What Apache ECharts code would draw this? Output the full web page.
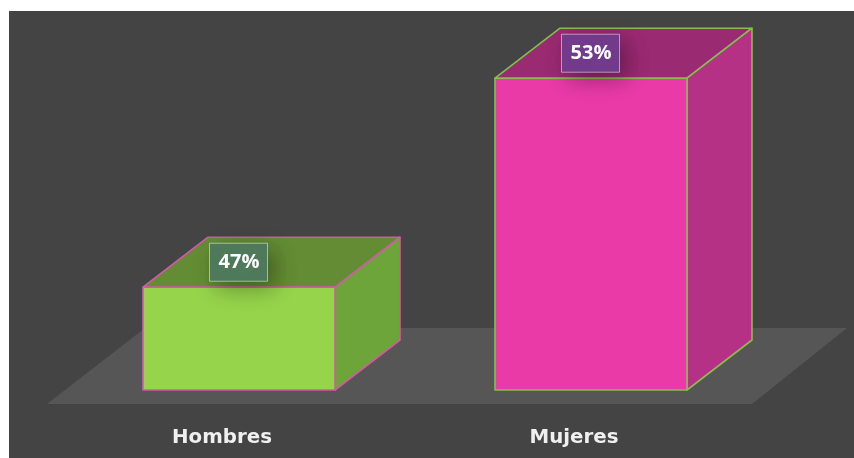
<!DOCTYPE html>
<html><head><meta charset="utf-8">
<style>
html,body{margin:0;padding:0;background:#fff;overflow:hidden}
#c{position:absolute;left:9px;top:11px;width:845px;height:447px;filter:blur(0.55px)}
</style>
<script src="https://cdn.jsdelivr.net/npm/echarts@6/dist/echarts.min.js"></script>
</head><body><div id="c"></div>
<script>
const categories = ['Hombres', 'Mujeres'];
const percentages = [47, 53];
const palette = [
  {front:'#96d44b', side:'#6ea53a', top:'#648c34', edge:'#d25aa8', tag:'#4f7a5c'},
  {front:'#e93aa8', side:'#b43186', top:'#9a2a72', edge:'#84c04a', tag:'#733b8b'}
];
const DX = 65, DY = -50, BAR = 192;
const chart = echarts.init(document.getElementById('c'), null, {renderer:'canvas'});
function poly(points, fill, stroke){
  return {type:'polygon', shape:{points}, style:{fill, stroke, lineWidth:1.6, lineJoin:'round'}};
}
chart.setOption({
  animation:false,
  backgroundColor:'#444444',
  grid:{left:54, top:32.4, width:704, height:346.6},
  xAxis:{type:'category', data:categories,
    axisLine:{show:false}, axisTick:{show:false}, splitLine:{show:false},
    axisLabel:{margin:38, color:'#f0f0f0', fontFamily:'DejaVu Sans', fontWeight:'bold', fontSize:19.8, padding:[0,34,0,0]}},
  yAxis:{type:'value', min:44.05, max:54, show:false},
  series:[
    {type:'custom', silent:true, data:[0], z:1,
     renderItem(params){
       const r = params.coordSys, x0=r.x, x1=r.x+r.width, b=r.y+r.height;
       return {type:'polygon', shape:{points:[[x0-16,b+14],[x1-15,b+14],[x1+80,b-62],[x0+82,b-62]]},
               style:{fill:'#565656'}};
     }},
    {type:'custom', silent:true, z:2,
     data:categories.map((c,i)=>[i, percentages[i]]),
     encode:{x:0,y:1},
     renderItem(params, api){
       const i = api.value(0), v = api.value(1), p = palette[i];
       const top = api.coord([i, v]);
       const base = api.coord([i, 44.05]);
       const l = top[0]-BAR/2, r = top[0]+BAR/2, t = top[1], b = base[1];
       const cx = top[0], ty = t-25;
       return {type:'group', children:[
         poly([[l,t],[r,t],[r+DX,t+DY],[l+DX,t+DY]], p.top, p.edge),
         poly([[r,t],[r+DX,t+DY],[r+DX,b+DY],[r,b]], p.side, p.edge),
         poly([[l,t],[r,t],[r,b],[l,b]], p.front, p.edge),
         {type:'rect', shape:{x:cx-29.5, y:ty-19, width:58, height:38},
          style:{fill:p.tag, stroke:'rgba(255,255,255,0.5)', lineWidth:1,
                 shadowBlur:22, shadowColor:'rgba(0,0,0,0.33)', shadowOffsetX:7, shadowOffsetY:7}},
         {type:'text', style:{x:cx, y:ty, text:v+'%', fill:'#ffffff', align:'center', verticalAlign:'middle',
                 fontFamily:'Open Sans', fontWeight:'bold', fontSize:20}}
       ]};
     }}
  ]
});
</script></body></html>
